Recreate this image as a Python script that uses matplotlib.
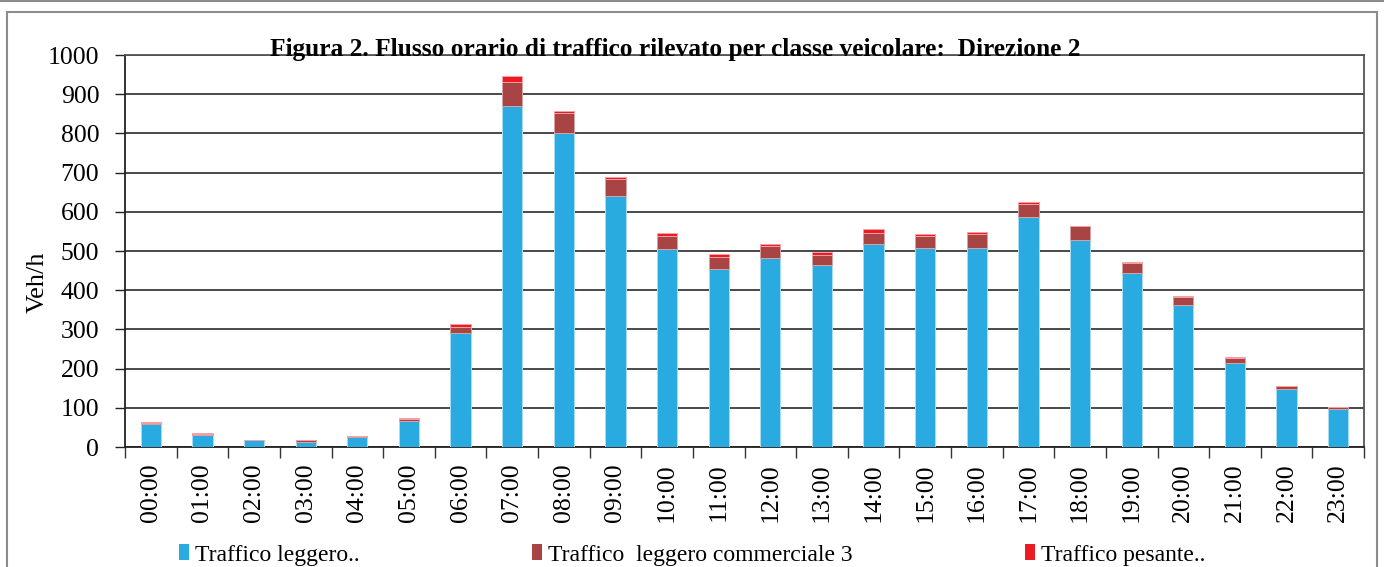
import numpy as np
import matplotlib
matplotlib.use("Agg")
import matplotlib.pyplot as plt
from matplotlib.patches import Patch, Rectangle
from matplotlib.lines import Line2D

plt.rcParams['font.family'] = ['Liberation Serif', 'DejaVu Serif']

# hourly flow by vehicle class, direction 2
hours = ["%02d:00" % h for h in range(24)]
leggero = [59, 31, 17, 14, 26, 67, 291, 871, 801, 641, 506, 455,
           481, 464, 517, 508, 507, 587, 529, 444, 362, 215, 147, 97]
commerciale = [3, 3, 1, 3, 2, 4, 16, 61, 51, 43, 33, 30,
               31, 27, 30, 31, 36, 34, 34, 25, 21, 13, 8, 5]
pesante = [1, 1, 0, 0, 0, 2, 7, 14, 6, 5, 6, 7,
           6, 7, 10, 5, 6, 5, 1, 3, 2, 2, 1, 1]

labels = ["Traffico leggero..", "Traffico  leggero commerciale 3", "Traffico pesante.."]
colors = ["#29ABE2", "#A84444", "#ED1C24"]
edges = ["#A8DDF3", "#D9A3A3", "#F7A1A4"]

W, H = 1384, 567
fig = plt.figure(figsize=(W / 100, H / 100), dpi=100)
ax = fig.add_axes([125 / W, 1 - 447 / H, (1364 - 125) / W, (447 - 55) / H])

x = np.arange(len(hours))
bottom = np.zeros(len(hours))
for vals, c, e, lab in zip([leggero, commerciale, pesante], colors, edges, labels):
    ax.bar(x, vals, width=0.39, bottom=bottom, color=c, edgecolor=e,
           linewidth=0.7, label=lab, zorder=3)
    bottom += np.array(vals)

ax.set_xlim(-0.5, len(hours) - 0.5)
ax.set_ylim(0, 1000)
ax.set_yticks(np.arange(0, 1001, 100))
ax.yaxis.grid(True, color="#3a3a3a", linewidth=1.3, zorder=1)
ax.set_axisbelow(True)

# category boundaries as major ticks, labels at the centres
ax.set_xticks(np.arange(-0.5, len(hours), 1.0))
ax.set_xticklabels([])
ax.set_xticks(x, minor=True)
ax.set_xticklabels(hours, minor=True, rotation=90, fontsize=18.5)
ax.tick_params(axis="x", which="major", length=8, width=1.0, color="#333333", direction="out")
ax.tick_params(axis="x", which="minor", length=0, pad=12)
ax.tick_params(axis="y", length=7, width=1.0, color="#222222", pad=11.5, labelsize=18.5)

for s in ["left", "bottom"]:
    ax.spines[s].set_color("#222222")
    ax.spines[s].set_linewidth(1.3)
for s in ["right", "top"]:
    ax.spines[s].set_color("#555555")
    ax.spines[s].set_linewidth(1.3)

fig.text(38 / W, 1 - 282 / H, "Veh/h", rotation=90, ha="center", va="center", fontsize=19)

fig.text(675 / W, 1 - 56 / H,
         "Figura 2. Flusso orario di traffico rilevato per classe veicolare:  Direzione 2",
         ha="center", va="baseline", fontsize=18.3, fontweight="bold")

handles = [Patch(facecolor=c, edgecolor="none") for c in colors]
fig.legend(handles, labels, loc="lower center", bbox_to_anchor=(0.5, -0.035), ncol=3,
           frameon=False, fontsize=17, handlelength=0.42, handleheight=0.65,
           handletextpad=0.25, columnspacing=7.3)

# outer frame of the original page
fig.add_artist(Line2D([0, 1], [1 - 0.5 / H, 1 - 0.5 / H], transform=fig.transFigure,
                      color="#8c8c8c", linewidth=1.5))
fig.add_artist(Rectangle((7 / W, -0.05), (1377 - 7) / W, 1 - 12 / H + 0.05,
                         transform=fig.transFigure, fill=False,
                         edgecolor="#8c8c8c", linewidth=1.5))

fig.savefig("out.png", dpi=100)
